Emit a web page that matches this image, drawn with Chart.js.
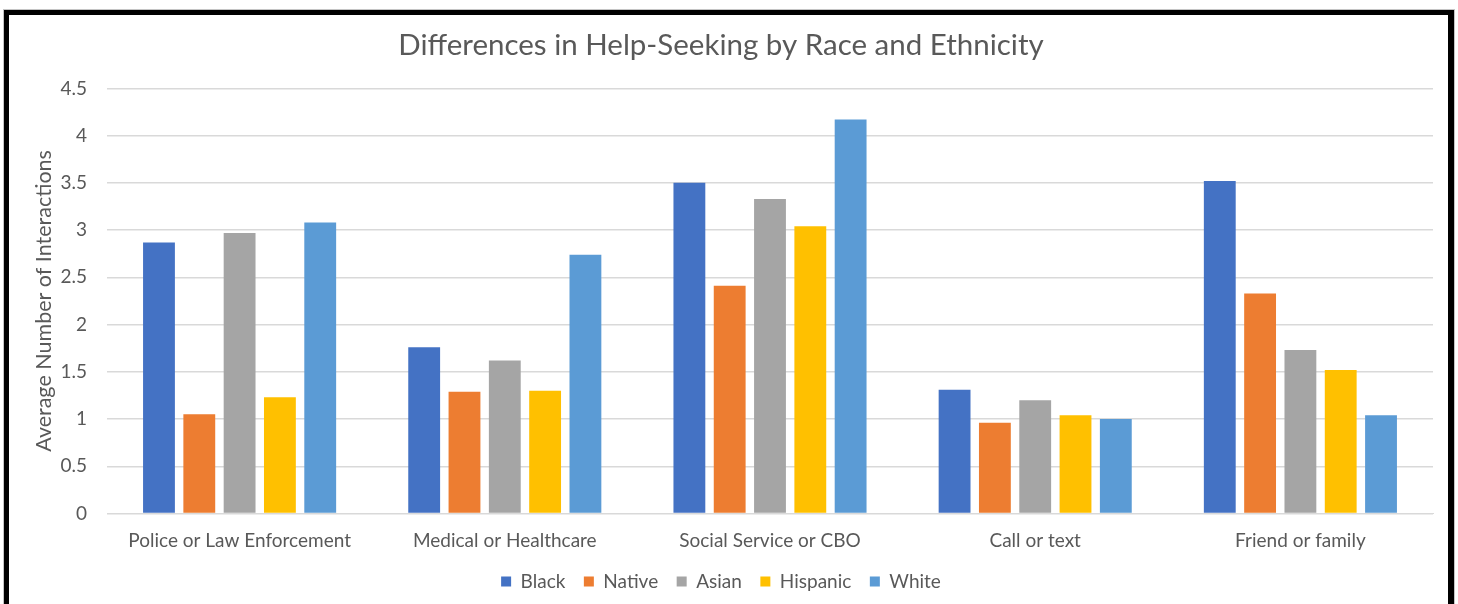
<!DOCTYPE html>
<html>
<head>
<meta charset="utf-8">
<script src="https://cdn.jsdelivr.net/npm/chart.js@4/dist/chart.umd.min.js"></script>
<style>
  html, body { margin: 0; padding: 0; background: #fff; }
  #frame {
    position: absolute;
    left: 4px;
    top: 10px;
    width: 1450px;
    height: 700px;
    box-sizing: border-box;
    border-style: solid;
    border-color: #000;
    border-width: 5px 6px 5px 5px;
    box-shadow: 0 0 0 1px #c4c4c4;
    background: #fff;
  }
  #chart { display: block; }
</style>
</head>
<body>
<div id="frame">
  <canvas id="chart" width="1439" height="586"></canvas>
</div>
<script>
const categories = ["Police or Law Enforcement", "Medical or Healthcare", "Social Service or CBO", "Call or text", "Friend or family"];
const seriesNames = ["Black", "Native", "Asian", "Hispanic", "White"];

const black    = [2.87, 1.76, 3.50, 1.31, 3.52];
const native   = [1.05, 1.29, 2.41, 0.96, 2.33];
const asian    = [2.97, 1.62, 3.33, 1.20, 1.73];
const hispanic = [1.23, 1.30, 3.04, 1.04, 1.52];
const white    = [3.08, 2.74, 4.17, 1.00, 1.04];

const yMin = 0;
const yMax = 4.5;
const yStep = 0.5;

const colors = ["#4472C4", "#ED7D31", "#A5A5A5", "#FFC000", "#5B9BD5"];
const textColor = "#595959";
const gridColor = "#d9d9d9";
const fontFamily = "Lato, 'Open Sans', sans-serif";

const values = [black, native, asian, hispanic, white];

const ctx = document.getElementById("chart").getContext("2d");

new Chart(ctx, {
  type: "bar",
  data: {
    labels: categories,
    datasets: seriesNames.map((name, i) => ({
      label: name,
      data: values[i],
      backgroundColor: colors[i],
      borderWidth: 0,
      categoryPercentage: 0.76,
      barPercentage: 0.79,
    })),
  },
  options: {
    responsive: false,
    animation: false,
    layout: {
      padding: { left: 0, right: 15, top: 0, bottom: 0 },
    },
    plugins: {
      title: {
        display: true,
        text: "Differences in Help-Seeking by Race and Ethnicity",
        color: textColor,
        font: { family: fontFamily, size: 29.5, weight: 400 },
        padding: { top: 13, bottom: 25 },
      },
      legend: {
        position: "bottom",
        labels: {
          boxWidth: 10,
          boxHeight: 10,
          padding: 18.5,
          color: textColor,
          font: { family: fontFamily, size: 19 },
        },
      },
      tooltip: { enabled: false },
    },
    scales: {
      x: {
        grid: { display: false },
        border: { color: gridColor, width: 1 },
        ticks: {
          color: textColor,
          font: { family: fontFamily, size: 19 },
          padding: 8,
        },
        afterFit: (scale) => { scale.height = 40; },
      },
      y: {
        min: yMin,
        max: yMax,
        grid: { color: gridColor, lineWidth: 1.5, drawTicks: false },
        border: { display: false },
        ticks: {
          stepSize: yStep,
          padding: 20,
          color: textColor,
          font: { family: fontFamily, size: 19 },
          callback: (v) => String(v),
        },
        title: {
          display: true,
          text: "Average Number of Interactions",
          color: textColor,
          font: { family: fontFamily, size: 21.5 },
          padding: { top: 22 },
        },
        afterFit: (scale) => { scale.width = 98; },
      },
    },
  },
});
</script>
</body>
</html>
